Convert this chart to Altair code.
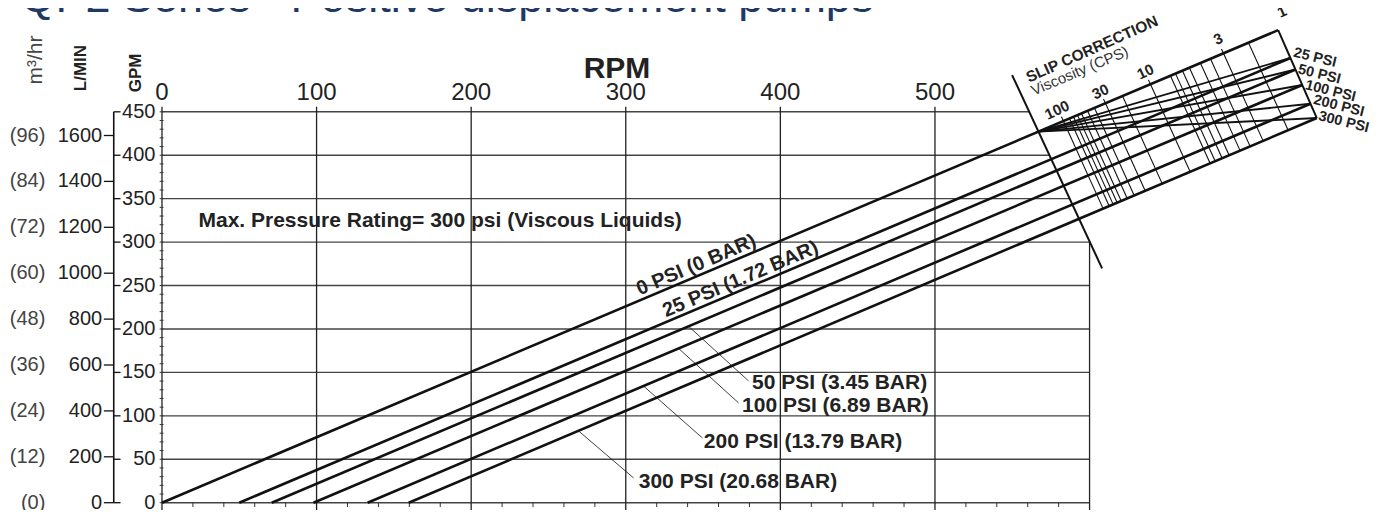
import altair as alt
import pandas as pd

TITLE = "QP2 Series - Positive displacement pumps"

# Frame of the drawing in data units (x: RPM, y: GPM)
X_DOMAIN = [-99.6, 781.4]
Y_DOMAIN = [-8.4, 569.5]

# Axes
RPM_LABELS = [0, 100, 200, 300, 400, 500]
RPM_GRID = [0, 100, 200, 300, 400, 500]
RPM_MINOR = [20, 40, 60, 80, 120, 140, 160, 180, 220, 240, 260, 280, 320, 340, 360,
             380, 420, 440, 460, 480, 520, 540, 560, 580]
GPM_VALUES = [0, 50, 100, 150, 200, 250, 300, 350, 400, 450]
GPM_GRID_END = [600, 600, 600, 600, 600, 600, 600, 587, 574, 561]
GPM_MINOR = list(range(0, 451, 10))
LMIN_VALUES = [0, 200, 400, 600, 800, 1000, 1200, 1400, 1600]
M3HR_LABELS = ["(0)", "(12)", "(24)", "(36)", "(48)", "(60)", "(72)", "(84)", "(96)"]
LMIN_PER_GPM = 3.785

# Pressure lines (flow vs speed)
PSI = ["0 PSI", "25 PSI", "50 PSI", "100 PSI", "200 PSI", "300 PSI"]
LINE_START_RPM = [0, 50, 71, 98, 133, 159.6]
LINE_END_RPM = [722, 730, 733.2, 737.6, 742.9, 747]
LINE_END_GPM = [544, 512, 498.7, 480.9, 459.3, 442.8]

# Slip correction nomogram
VISC = [100, 90, 80, 70, 60, 50, 40, 30, 20, 10, 9, 8, 7, 6, 5, 4, 3, 2]
VISC_TOP_RPM = [583.1, 587.0, 589.6, 592.2, 594.8, 598.7, 603.2, 610.3, 621.3, 639.4,
                652.3, 655.6, 660.1, 664.6, 671.7, 678.2, 686.6, 702.8]
VISC_LABELS = ["100", "30", "10", "3", "1"]
VISC_LABEL_X = [579.0, 607.0, 636.1, 683.2, 724.5]
VISC_LABEL_Y = [452.0, 473.1, 496.1, 533.8, 565.2]
VISC_STEP = (25.6, -100.5)  # from 0 PSI edge to 300 PSI edge
FAN_ORIGIN = (567.0, 427.2)
SLIP_EDGE_X = [549.9, 608.1]
SLIP_EDGE_Y = [492.3, 269.8]
RIGHT_LABEL_X = [732.1, 734.9, 739.6, 745.0, 748.2]
RIGHT_LABEL_Y = [518.2, 498.9, 480.8, 463.6, 445.1]

# Callouts
CALLOUT_TEXT = ["50 PSI (3.45 BAR)", "100 PSI (6.89 BAR)", "200 PSI (13.79 BAR)", "300 PSI (20.68 BAR)"]
CALLOUT_X = [381.7, 375.2, 350.5, 308.4]
CALLOUT_Y = [137.8, 111.0, 69.9, 23.3]
LEADER_FROM_X = [340.6, 334.1, 311.4, 269.4]
LEADER_FROM_Y = [203.1, 177.7, 134.4, 82.7]
LEADER_TO_X = [379.4, 372.9, 349.6, 305.0]
LEADER_TO_Y = [140.2, 115.0, 74.5, 28.6]
ON_LINE_TEXT = ["0 PSI (0 BAR)", "25 PSI (1.72 BAR)"]
ON_LINE_X = [345.6, 374.2]
ON_LINE_Y = [273.6, 257.3]

FONT = "Liberation Sans"
xs = alt.Scale(domain=X_DOMAIN, nice=False, zero=False)
ys = alt.Scale(domain=Y_DOMAIN, nice=False, zero=False)


def rules(df, width, color="#111111"):
    return alt.Chart(df).mark_rule(strokeWidth=width, color=color).encode(
        x=alt.X("x:Q", scale=xs, axis=None),
        y=alt.Y("y:Q", scale=ys, axis=None),
        x2="x2:Q", y2="y2:Q")


def texts(df, **kw):
    kw.setdefault("font", FONT)
    kw.setdefault("color", "#222222")
    return alt.Chart(df).mark_text(**kw).encode(
        x=alt.X("x:Q", scale=xs, axis=None),
        y=alt.Y("y:Q", scale=ys, axis=None),
        text="t:N")


layers = []

# horizontal grid
layers.append(rules(pd.DataFrame({"x": [0] * len(GPM_VALUES), "x2": GPM_GRID_END,
                                  "y": GPM_VALUES, "y2": GPM_VALUES}), 1.4, "#444444"))
# vertical grid
vg = pd.DataFrame({"x": RPM_GRID + [600], "x2": RPM_GRID + [600],
                   "y": [-9.6] * 7, "y2": [455.8] * 6 + [300]})
layers.append(rules(vg, 1.3, "#222222"))
# bottom minor ticks
layers.append(rules(pd.DataFrame({"x": RPM_MINOR, "x2": RPM_MINOR,
                                  "y": [-5] * len(RPM_MINOR), "y2": [0] * len(RPM_MINOR)}), 1, "#333333"))
# left minor ticks
layers.append(rules(pd.DataFrame({"x": [-1.5] * len(GPM_MINOR), "x2": [1.0] * len(GPM_MINOR),
                                  "y": GPM_MINOR, "y2": GPM_MINOR}), 1, "#333333"))
# L/MIN axis line and ticks
layers.append(rules(pd.DataFrame({"x": [-31.2], "x2": [-31.2], "y": [0], "y2": [450]}), 1.6))
layers.append(rules(pd.DataFrame({"x": [-31.2] * len(GPM_VALUES), "x2": [-26.8] * len(GPM_VALUES),
                                  "y": GPM_VALUES, "y2": GPM_VALUES}), 1.3))
lm_y = [v / LMIN_PER_GPM for v in LMIN_VALUES]
layers.append(rules(pd.DataFrame({"x": [-37.6] * len(lm_y), "x2": [-31.2] * len(lm_y),
                                  "y": lm_y, "y2": lm_y}), 1.3))

# pressure lines
layers.append(rules(pd.DataFrame({"x": LINE_START_RPM, "y": [0] * 6,
                                  "x2": LINE_END_RPM, "y2": LINE_END_GPM}), 2.6))

# nomogram: viscosity lines
k = LINE_END_GPM[0] / LINE_END_RPM[0]
vl = pd.DataFrame({"x": VISC_TOP_RPM, "y": [k * r for r in VISC_TOP_RPM],
                   "x2": [r + VISC_STEP[0] for r in VISC_TOP_RPM],
                   "y2": [k * r + VISC_STEP[1] for r in VISC_TOP_RPM]})
layers.append(rules(vl, 1.1))
lab_idx = [VISC.index(v) for v in [100, 30, 10, 3]]
tk = pd.DataFrame({"x": [VISC_TOP_RPM[i] for i in lab_idx],
                   "y": [k * VISC_TOP_RPM[i] for i in lab_idx],
                   "x2": [VISC_TOP_RPM[i] - 1.3 for i in lab_idx],
                   "y2": [k * VISC_TOP_RPM[i] + 5 for i in lab_idx]})
layers.append(rules(tk, 1.1))
# left boundary and right edge
layers.append(rules(pd.DataFrame({"x": [SLIP_EDGE_X[0]], "y": [SLIP_EDGE_Y[0]],
                                  "x2": [SLIP_EDGE_X[1]], "y2": [SLIP_EDGE_Y[1]]}), 2))
layers.append(rules(pd.DataFrame({"x": [LINE_END_RPM[0]], "y": [LINE_END_GPM[0]],
                                  "x2": [LINE_END_RPM[-1]], "y2": [LINE_END_GPM[-1]]}), 2))
# fan lines
layers.append(rules(pd.DataFrame({"x": [FAN_ORIGIN[0]] * 5, "y": [FAN_ORIGIN[1]] * 5,
                                  "x2": LINE_END_RPM[1:], "y2": LINE_END_GPM[1:]}), 1.9))
# leader lines
layers.append(rules(pd.DataFrame({"x": LEADER_FROM_X, "y": LEADER_FROM_Y,
                                  "x2": LEADER_TO_X, "y2": LEADER_TO_Y}), 0.8))

# ---- texts
layers.append(texts(pd.DataFrame({"x": [-91.5], "y": [564.9], "t": [TITLE]}),
                    fontSize=45, color="#1f3864", align="left", baseline="alphabetic", clip=True))
layers.append(texts(pd.DataFrame({"x": RPM_LABELS, "y": [463.6] * 6, "t": [str(v) for v in RPM_LABELS]}),
                    fontSize=24, align="center", baseline="alphabetic"))
layers.append(texts(pd.DataFrame({"x": [294.3], "y": [499.0], "t": ["RPM"]}),
                    fontSize=30, fontWeight="bold", align="center", baseline="middle"))
layers.append(texts(pd.DataFrame({"x": [-4.2] * 10, "y": GPM_VALUES, "t": [str(v) for v in GPM_VALUES]}),
                    fontSize=20, align="right", baseline="middle"))
layers.append(texts(pd.DataFrame({"x": [-38.7] * 9, "y": lm_y, "t": [str(v) for v in LMIN_VALUES]}),
                    fontSize=20, align="right", baseline="middle"))
layers.append(texts(pd.DataFrame({"x": [-75.4] * 9, "y": lm_y, "t": M3HR_LABELS}),
                    fontSize=20, align="right", baseline="middle", color="#444444"))
layers.append(texts(pd.DataFrame({"x": [-81.2], "y": [509.6], "t": ["m³/hr"]}),
                    fontSize=21, angle=270, align="center", baseline="middle", color="#444444"))
layers.append(texts(pd.DataFrame({"x": [-52.1, -16.5], "y": [500.4, 494.7], "t": ["L/MIN", "GPM"]}),
                    fontSize=17, fontWeight="bold", angle=270, align="center", baseline="middle"))
layers.append(texts(pd.DataFrame({"x": [23.6], "y": [324.5],
                                  "t": ["Max. Pressure Rating= 300 psi (Viscous Liquids)"]}),
                    fontSize=21, fontWeight="bold", align="left", baseline="middle"))
layers.append(texts(pd.DataFrame({"x": ON_LINE_X, "y": ON_LINE_Y, "t": ON_LINE_TEXT}),
                    fontSize=20, fontWeight="bold", angle=337, align="center", baseline="middle"))
layers.append(texts(pd.DataFrame({"x": CALLOUT_X, "y": CALLOUT_Y, "t": CALLOUT_TEXT}),
                    fontSize=21, fontWeight="bold", align="left", baseline="middle"))
layers.append(texts(pd.DataFrame({"x": RIGHT_LABEL_X, "y": RIGHT_LABEL_Y, "t": PSI[1:]}),
                    fontSize=14.5, fontWeight="bold", angle=14, align="left", baseline="middle"))
layers.append(texts(pd.DataFrame({"x": VISC_LABEL_X, "y": VISC_LABEL_Y, "t": VISC_LABELS}),
                    fontSize=15, fontWeight="bold", angle=335, align="center", baseline="middle"))
layers.append(texts(pd.DataFrame({"x": [601.6], "y": [522.1], "t": ["SLIP CORRECTION"]}),
                    fontSize=15.5, fontWeight="bold", angle=336, align="center", baseline="middle"))
layers.append(texts(pd.DataFrame({"x": [593.6], "y": [497.2], "t": ["Viscosity (CPS)"]}),
                    fontSize=15, angle=337, align="center", baseline="middle", color="#333333"))

chart = alt.layer(*layers).properties(
    width=1362, height=502,
    autosize=alt.AutoSizeParams(type="none"),
    padding=0,
    background="white",
).configure_view(strokeWidth=0)

chart.save("out.html", embed_options={"renderer": "svg", "actions": False})
